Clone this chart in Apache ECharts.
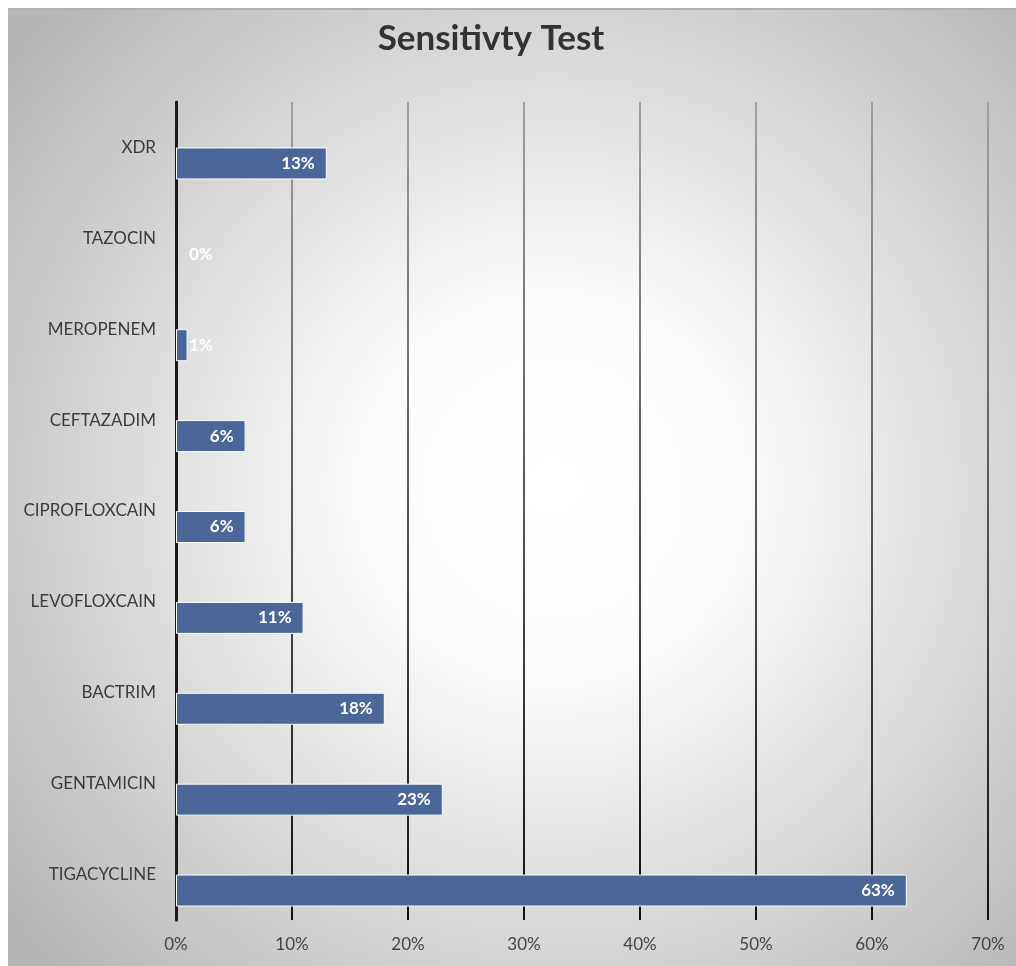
<!DOCTYPE html>
<html>
<head>
<meta charset="utf-8">
<script src="https://cdn.jsdelivr.net/npm/echarts@6/dist/echarts.min.js"></script>
<style>
  html, body { margin: 0; padding: 0; background: #ffffff; }
  #frame { position: absolute; left: 8px; top: 8px; width: 1008px; height: 958px;
           border-top: 2px solid #b0b0b0; box-sizing: border-box; }
  #chart { width: 100%; height: 100%; }
</style>
</head>
<body>
<div id="frame"><div id="chart"></div></div>
<script>
// Antibiotic sensitivity, bottom category first
const drugs = ['TIGACYCLINE', 'GENTAMICIN', 'BACTRIM', 'LEVOFLOXCAIN', 'CIPROFLOXCAIN',
               'CEFTAZADIM', 'MEROPENEM', 'TAZOCIN', 'XDR'];
const sensitivity = [63, 23, 18, 11, 6, 6, 1, 0, 13];
const xTicks = { min: 0, max: 70, step: 10 };
const chartTitle = 'Sensitivty Test';

const FONT = 'Lato, "Open Sans", sans-serif';
const chart = echarts.init(document.getElementById('chart'));

// values too small to hold their label inside the bar get it past the bar start
const barData = sensitivity.map(v => v < 3
  ? { value: v, label: { position: 'insideLeft', distance: 13 },
      itemStyle: { borderWidth: v === 0 ? 0 : 1 } }
  : v);

chart.setOption({
  backgroundColor: new echarts.graphic.RadialGradient(0.54, 0.5, 0.72, [
    { offset: 0, color: '#ffffff' },
    { offset: 0.28, color: '#fbfbfb' },
    { offset: 1, color: '#b6b6b6' }
  ]),
  title: {
    text: chartTitle,
    left: 478, top: 6, textAlign: 'center',
    textStyle: { fontFamily: FONT, fontSize: 35, fontWeight: 'bold', color: '#333333' }
  },
  grid: { left: 168, right: 28, top: 92, bottom: 46, containLabel: false },
  xAxis: {
    type: 'value',
    min: xTicks.min, max: xTicks.max, interval: xTicks.step,
    axisLine: { show: false },
    axisTick: { show: false },
    axisLabel: { formatter: '{value}%', color: '#444444', fontSize: 17, fontFamily: FONT, margin: 16 },
    splitLine: {
      lineStyle: {
        width: 2,
        color: new echarts.graphic.LinearGradient(0, 92, 0, 912, [
          { offset: 0, color: '#a0a0a0' },
          { offset: 0.5, color: '#555555' },
          { offset: 1, color: '#111111' }
        ], true)
      }
    }
  },
  yAxis: {
    type: 'category',
    data: drugs,
    axisLine: { show: true, lineStyle: { color: '#1a1a1a', width: 3 } },
    axisTick: { show: false },
    axisLabel: { color: '#3c3c3c', fontSize: 17, fontFamily: FONT, margin: 20 },
    splitLine: { show: false }
  },
  series: [
    {
      // empty slot keeping each bar in the lower half of its row
      type: 'bar', data: drugs.map(() => null), barWidth: 32, barGap: 0, silent: true
    },
    {
      type: 'bar',
      data: barData,
      barWidth: 32, barGap: 0,
      itemStyle: { color: '#4b6699', borderColor: '#ffffff', borderWidth: 1 },
      label: {
        show: true, position: 'insideRight', distance: 12,
        formatter: '{c}%', color: '#ffffff', fontSize: 17, fontWeight: 'bold', fontFamily: FONT
      }
    }
  ]
});
</script>
</body>
</html>
